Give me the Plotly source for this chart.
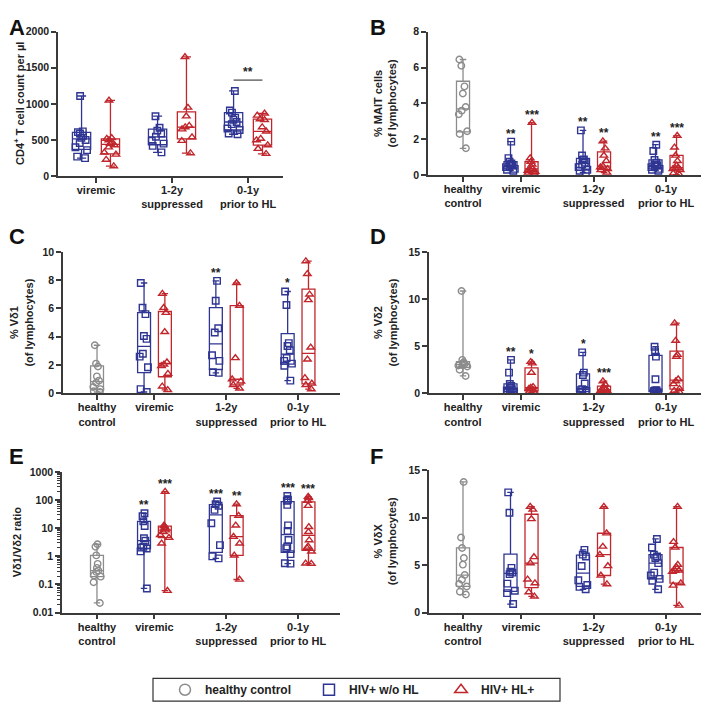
import numpy as np
import plotly.graph_objects as go

# ---------------- data ----------------
GROUPS4 = ["healthy<br>control", "viremic", "1-2y<br>suppressed", "0-1y<br>prior to HL"]
GROUPS3 = ["viremic", "1-2y<br>suppressed", "0-1y<br>prior to HL"]

# Panel A: CD4+ T cell count per µl (no healthy control)
A_blue = [
    [250, 270, 360, 400, 460, 500, 530, 560, 590, 610, 620, 1110],
    [330, 420, 450, 490, 545, 590, 630, 670, 830],
    [580, 590, 640, 660, 720, 750, 780, 810, 880, 910, 1180],
]
A_red = [
    [140, 230, 300, 330, 400, 430, 450, 470, 500, 520, 530, 1050],
    [320, 490, 540, 650, 680, 700, 830, 950, 1650],
    [310, 380, 430, 500, 520, 620, 680, 780, 790, 840, 870],
]
A_bracket_value = 1330
A_bracket_text = "**"

# Panel B: % MAIT cells
B_healthy = [1.5, 2.3, 2.45, 3.4, 3.6, 3.8, 4.55, 4.95, 6.1, 6.45]
B_blue = [
    [0.25, 0.3, 0.35, 0.45, 0.5, 0.55, 0.6, 0.65, 0.75, 0.95, 1.87],
    [0.15, 0.25, 0.3, 0.45, 0.6, 0.7, 0.85, 0.88, 1.1, 2.5],
    [0.25, 0.3, 0.35, 0.45, 0.5, 0.55, 0.6, 0.7, 0.85, 1.35, 1.7],
]
B_red = [
    [0.1, 0.15, 0.2, 0.25, 0.3, 0.35, 0.45, 0.6, 0.75, 0.95, 2.93],
    [0.15, 0.3, 0.35, 0.45, 0.5, 0.8, 1.1, 1.5, 1.9],
    [0.03, 0.1, 0.3, 0.35, 0.38, 0.42, 0.55, 0.8, 1.1, 1.55, 2.2],
]
B_sig_blue = ["**", "**", "**"]
B_sig_red = ["***", "**", "***"]

# Panel C: % Vδ1
C_healthy = [0.1, 0.15, 0.3, 0.45, 0.75, 0.9, 1.2, 1.9, 2.1, 3.4]
C_blue = [
    [0.1, 0.3, 1.85, 2.6, 2.8, 3.85, 4.05, 5.6, 6.05, 7.8],
    [1.45, 1.5, 2.3, 2.7, 4.3, 4.6, 6.55, 7.95],
    [0.9, 1.95, 2.1, 2.3, 2.5, 3.05, 3.35, 3.55, 6.25, 7.2],
]
C_red = [
    [0.25, 0.5, 1.4, 1.95, 2.05, 2.2, 4.35, 5.7, 6.05, 7.05],
    [0.35, 0.6, 0.85, 1.0, 2.5, 6.2, 7.8],
    [0.3, 0.6, 0.7, 1.1, 2.4, 3.25, 6.6, 7.0, 8.45, 9.35],
]
C_sig_blue = ["", "**", "*"]
C_sig_red = ["", "", ""]

# Panel D: % Vδ2
D_healthy = [1.85, 2.5, 2.85, 2.95, 3.0, 3.1, 3.2, 3.3, 3.55, 10.85]
D_blue = [
    [0.1, 0.15, 0.2, 0.3, 0.35, 0.45, 0.6, 0.8, 1.0, 2.2, 3.55],
    [0.1, 0.15, 0.25, 0.35, 0.45, 1.05, 1.95, 2.2, 4.35],
    [0.1, 0.15, 0.2, 0.25, 0.3, 0.35, 1.5, 3.9, 4.45, 4.95],
]
D_red = [
    [0.1, 0.2, 0.35, 0.5, 0.6, 0.7, 2.2, 3.2, 3.35],
    [0.05, 0.1, 0.2, 0.3, 0.35, 0.45, 0.6, 0.95, 1.3],
    [0.15, 0.3, 0.5, 1.0, 1.3, 1.5, 3.9, 4.1, 5.6, 7.45],
]
D_sig_blue = ["**", "*", ""]
D_sig_red = ["*", "***", ""]

# Panel E: Vδ1/Vδ2 ratio (log)
E_healthy = [0.022, 0.12, 0.19, 0.21, 0.28, 0.31, 0.39, 0.54, 1.08, 2.2, 2.7]
E_blue = [
    [0.072, 1.5, 1.9, 2.05, 2.2, 3.6, 4.4, 12, 17.5, 27, 34],
    [0.85, 1.0, 2.5, 15, 45, 63, 72, 89],
    [0.55, 0.57, 1.2, 1.95, 2.25, 3.8, 8.0, 12.6, 68, 95, 103, 141],
]
E_red = [
    [0.06, 2.9, 4.6, 5.8, 7.4, 8.5, 9.8, 10.5, 11.8, 12.6, 200],
    [0.15, 1.08, 2.9, 5.0, 12.6, 28, 72],
    [0.55, 0.56, 1.5, 2.0, 2.25, 3.8, 7.4, 11.2, 63, 95, 120, 134],
]
E_sig_blue = ["**", "***", "***"]
E_sig_red = ["***", "**", "***"]
E_ticks = [0.01, 0.1, 1, 10, 100, 1000]
E_ticktext = ["0.01", "0.1", "1", "10", "100", "1000"]

# Panel F: % VδX
F_healthy = [1.9, 2.2, 2.75, 3.0, 3.45, 3.95, 5.05, 5.75, 6.8, 7.9, 13.75]
F_blue = [
    [0.9, 2.05, 2.3, 3.05, 4.05, 4.2, 4.3, 4.7, 10.5, 12.65],
    [2.45, 2.7, 2.9, 3.4, 4.9, 5.9, 6.1, 6.6],
    [2.45, 3.35, 3.55, 3.9, 4.2, 5.2, 5.75, 5.9, 6.1, 6.85, 7.75],
]
F_red = [
    [1.7, 2.15, 3.1, 3.5, 5.2, 5.85, 9.85, 10.85, 11.15],
    [3.0, 3.9, 4.9, 6.1, 6.95, 8.35, 11.15],
    [0.75, 2.85, 3.1, 4.3, 4.4, 4.45, 4.8, 5.05, 6.85, 7.45, 11.15],
]

LEGEND_NAMES = ["healthy control", "HIV+ w/o HL", "HIV+ HL+"]

# ---------------- style ----------------
PAGE_OFF = 8          # default body margin of the html page
W = H = 709 - PAGE_OFF
FONT = "Liberation Sans, Arial, sans-serif"
BLUE = "#2f3592"
RED = "#c0262c"
GREY = "#8c8c8c"
AX = "#3a3a3a"
TXT = "#222222"

POS4 = [0, 0.8, 1.8, 2.8]
POS3 = [0, 1, 2]


def px_x(p):
    return (p - PAGE_OFF) / W


def px_y(p):
    return 1 - (p - PAGE_OFF) / H


fig = go.Figure()


def add_group(ax, pos, vals, color, symbol, bw):
    xa, ya = ax
    q1, med, q3 = np.percentile(vals, [25, 50, 75], method="weibull")
    fig.add_trace(go.Box(
        x=[pos], q1=[q1], median=[med], q3=[q3],
        lowerfence=[min(vals)], upperfence=[max(vals)],
        width=bw, whiskerwidth=0.5,
        line=dict(color=color, width=1.3),
        fillcolor="rgba(255,255,255,0)",
        boxpoints=False, showlegend=False, hoverinfo="skip",
        xaxis=xa, yaxis=ya,
    ))
    fig.add_trace(go.Box(
        x=[pos] * len(vals), y=vals,
        boxpoints="all", jitter=0.85, pointpos=0, width=bw,
        line=dict(width=0, color="rgba(0,0,0,0)"),
        fillcolor="rgba(0,0,0,0)",
        marker=dict(symbol=symbol, size=6.5, color=color,
                    line=dict(color=color, width=1.4)),
        showlegend=False, hoverinfo="skip",
        xaxis=xa, yaxis=ya,
    ))


annotations = []
shapes = []


def star(ax, x, yv, text, log=False):
    if not text:
        return
    xa, ya = ax
    annotations.append(dict(
        x=x, y=(np.log10(yv) if log else yv), xref=xa, yref=ya,
        text=text, showarrow=False, yanchor="bottom", yshift=-1,
        font=dict(family=FONT, size=12, color=TXT, weight="bold"),
    ))


# panel layout (pixel boxes, page coordinates)
PANELS = {
    "A": dict(ax=("x", "y"), xpx=(58, 283), ypx=(26, 173), xr=[-0.5, 2.46], yr=[0, 2000],
              yt=[0, 500, 1000, 1500, 2000], ticks=POS3, labels=GROUPS3,
              title="CD4<sup>+</sup> T cell count per µl", tx=19, letter=(8, 8)),
    "B": dict(ax=("x2", "y2"), xpx=(428, 708), ypx=(26, 172), xr=[-0.483, 3.379], yr=[0, 8],
              yt=[0, 2, 4, 6, 8], ticks=POS4, labels=GROUPS4,
              title="% MAIT cells<br>(of lymphocytes)", tx=385, letter=(369, 8)),
    "C": dict(ax=("x3", "y3"), xpx=(63, 340), ypx=(250, 394), xr=[-0.474, 3.384], yr=[0, 10],
              yt=[0, 2, 4, 6, 8, 10], ticks=POS4, labels=GROUPS4,
              title="% Vδ1<br>(of lymphocytes)", tx=21, letter=(8, 221)),
    "D": dict(ax=("x4", "y4"), xpx=(429, 708), ypx=(250, 394), xr=[-0.469, 3.379], yr=[0, 15],
              yt=[0, 5, 10, 15], ticks=POS4, labels=GROUPS4,
              title="% Vδ2<br>(of lymphocytes)", tx=385, letter=(369, 221)),
    "E": dict(ax=("x5", "y5"), xpx=(62, 340), ypx=(474, 617), xr=[-0.487, 3.384], yr=[-2, 3],
              yt=E_ticks, ytt=E_ticktext, log=True, ticks=POS4, labels=GROUPS4,
              title="Vδ1/Vδ2 ratio", tx=17, letter=(8, 444)),
    "F": dict(ax=("x6", "y6"), xpx=(429, 708), ypx=(472, 617), xr=[-0.469, 3.379], yr=[0, 15],
              yt=[0, 5, 10, 15], ticks=POS4, labels=GROUPS4,
              title="% VδX<br>(of lymphocytes)", tx=385, letter=(369, 444)),
}

layout_axes = {}
for i, (name, p) in enumerate(PANELS.items(), start=1):
    sx = "" if i == 1 else str(i)
    layout_axes["xaxis" + sx] = dict(
        domain=[max(0, px_x(p["xpx"][0])), min(1, px_x(p["xpx"][1]))], range=p["xr"],
        anchor="y" + sx, showline=True, linecolor=AX, linewidth=1.5,
        ticks="outside", ticklen=5, tickwidth=1.5, tickcolor=AX,
        tickvals=p["ticks"], ticktext=p["labels"], showgrid=False, zeroline=False,
        ticklabelstandoff=-2,
        tickfont=dict(family=FONT, size=11, color=TXT, weight="bold"),
    )
    ya = dict(
        domain=[px_y(p["ypx"][1]), px_y(p["ypx"][0])], range=p["yr"],
        anchor="x" + sx, showline=True, linecolor=AX, linewidth=1.5,
        ticks="outside", ticklen=5, tickwidth=1.5, tickcolor=AX,
        tickvals=p["yt"], showgrid=False, zeroline=False,
        tickfont=dict(family=FONT, size=10.5, color=TXT, weight="bold"),
    )
    if p.get("log"):
        ya["type"] = "log"
        ya["ticktext"] = p["ytt"]
        ya["minor"] = dict(
            tickvals=[m * 10.0 ** k for k in range(-2, 3) for m in range(2, 10)],
            ticks="outside", ticklen=3, tickwidth=1, tickcolor=AX, showgrid=False,
        )
    layout_axes["yaxis" + sx] = ya
    # y title
    annotations.append(dict(
        x=px_x(p["tx"]), y=px_y((p["ypx"][0] + p["ypx"][1]) / 2), xref="paper", yref="paper",
        text=p["title"], textangle=-90, showarrow=False, xanchor="center", yanchor="middle",
        font=dict(family=FONT, size=11, color=TXT, weight="bold"),
    ))
    # panel letter
    annotations.append(dict(
        x=px_x(p["letter"][0]), y=px_y(p["letter"][1]), xref="paper", yref="paper",
        text=name, showarrow=False, xanchor="left", yanchor="top", borderpad=0,
        font=dict(family=FONT, size=22, color="#111111", weight="bold"),
    ))

# ---- Panel A ----
pa = PANELS["A"]
for g in range(3):
    add_group(pa["ax"], POS3[g] - 0.19, A_blue[g], BLUE, "square-open", 0.24)
    add_group(pa["ax"], POS3[g] + 0.19, A_red[g], RED, "triangle-up-open", 0.24)
shapes.append(dict(type="line", xref="x", yref="y", x0=POS3[2] - 0.19, x1=POS3[2] + 0.19,
                   y0=A_bracket_value, y1=A_bracket_value, line=dict(color=TXT, width=1)))
star(pa["ax"], POS3[2], A_bracket_value, A_bracket_text)

# ---- Panels B-F ----
OFF = 0.145
BW = 0.18
for name, healthy, blue, red, sb, sr in [
    ("B", B_healthy, B_blue, B_red, B_sig_blue, B_sig_red),
    ("C", C_healthy, C_blue, C_red, C_sig_blue, C_sig_red),
    ("D", D_healthy, D_blue, D_red, D_sig_blue, D_sig_red),
    ("E", E_healthy, E_blue, E_red, E_sig_blue, E_sig_red),
    ("F", F_healthy, F_blue, F_red, None, None),
]:
    p = PANELS[name]
    log = p.get("log", False)
    add_group(p["ax"], POS4[0], healthy, GREY, "circle-open", BW)
    for g in range(3):
        add_group(p["ax"], POS4[g + 1] - OFF, blue[g], BLUE, "square-open", BW)
        add_group(p["ax"], POS4[g + 1] + OFF, red[g], RED, "triangle-up-open", BW)
        if sb:
            star(p["ax"], POS4[g + 1] - OFF, max(blue[g]), sb[g], log)
            star(p["ax"], POS4[g + 1] + OFF, max(red[g]), sr[g], log)

# ---- legend: one legend per entry so each sits where the reference has it ----
LEG_X = [165, 309, 441]
legend_layouts = {}
for k, (nm, col, sym) in enumerate(zip(LEGEND_NAMES, [GREY, BLUE, RED],
                                       ["circle-open", "square-open", "triangle-up-open"])):
    lname = "legend" if k == 0 else f"legend{k + 1}"
    fig.add_trace(go.Scatter(
        x=[None], y=[None], mode="markers", name=nm, legend=lname,
        marker=dict(symbol=sym, size=11, color=col, line=dict(color=col, width=1.5)),
        xaxis="x", yaxis="y", showlegend=True, hoverinfo="skip",
    ))
    legend_layouts[lname] = dict(
        x=px_x(LEG_X[k]), y=px_y(695.5), xanchor="left", yanchor="middle",
        bgcolor="rgba(0,0,0,0)", borderwidth=0,
        font=dict(family=FONT, size=12, color=TXT, weight="bold"),
        itemclick=False, itemdoubleclick=False,
    )

shapes.append(dict(type="rect", xref="paper", yref="paper",
                   x0=px_x(153), x1=px_x(560), y0=px_y(707), y1=px_y(684),
                   line=dict(color="#333333", width=1.2)))

fig.update_layout(
    width=W, height=H, autosize=False,
    margin=dict(l=0, r=0, t=0, b=0),
    paper_bgcolor="white", plot_bgcolor="white",
    font=dict(family=FONT, color=TXT),
    boxmode="overlay",
    showlegend=True,
    annotations=annotations,
    shapes=shapes,
    **legend_layouts,
    **layout_axes,
)

fig.write_html("out.html")
